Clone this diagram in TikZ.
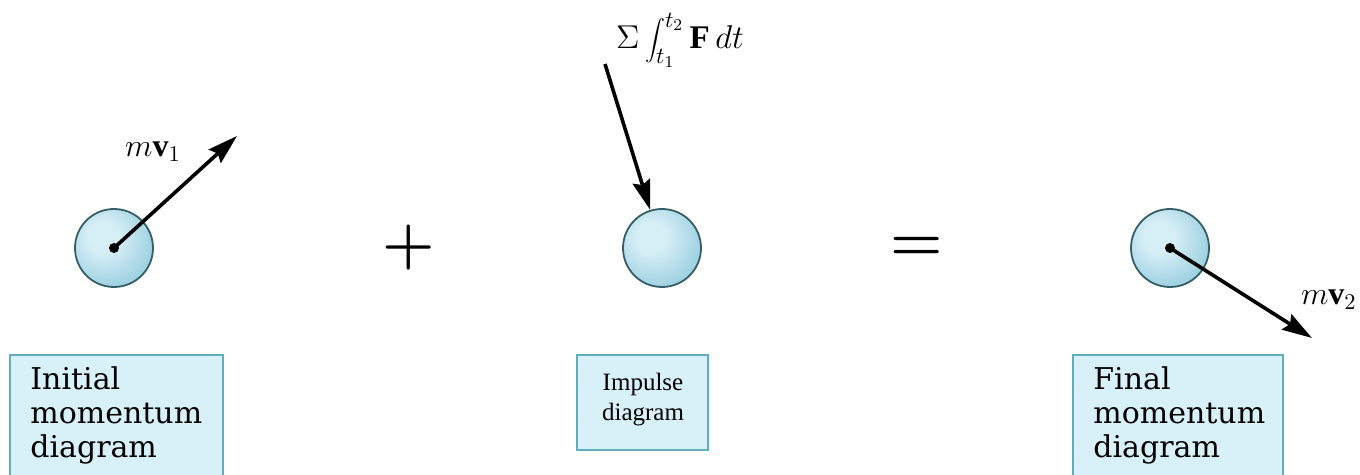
\RequirePackage{fix-cm}
\documentclass[tikz,border=0pt]{standalone}
\usepackage{fontspec}
\setmainfont{Liberation Serif}
\newfontfamily\wideserif{DejaVu Serif}
\usetikzlibrary{arrows.meta}
\definecolor{ballin}{HTML}{D6EEF6}
\definecolor{ballout}{HTML}{5AAFC8}
\definecolor{ballrim}{HTML}{355F68}
\definecolor{boxfill}{HTML}{D8F0F8}
\definecolor{boxrim}{HTML}{62AEBE}
\pgfdeclareradialshading{ballshade}{\pgfpoint{-8bp}{8bp}}{color(0bp)=(ballin); color(10bp)=(ballin); color(55bp)=(ballout); color(80bp)=(ballout)}
\tikzset{
  ballnode/.style={circle, minimum size=39pt, inner sep=0pt, draw=ballrim, line width=0.9pt, shading=ballshade},
  vec/.style={line width=1.8pt, -{Stealth[length=15pt,width=9pt,inset=2pt]}},
  dotnode/.style={circle, fill=black, minimum size=5pt, inner sep=0pt},
  labelbox/.style={draw=boxrim, fill=boxfill, line width=0.9pt},
  widetext/.style={anchor=north west, inner sep=0pt, align=left, font=\wideserif\fontsize{15}{17}\selectfont},
  mathlbl/.style={inner sep=0pt, font=\fontsize{16}{18}\selectfont},
  opnode/.style={inner sep=0pt, font=\fontsize{30}{32}\selectfont\boldmath}
}
\begin{document}
\begin{tikzpicture}[x=0.5pt,y=-0.5pt]
\useasboundingbox (0,0) rectangle (1360,475);
% label boxes
\draw[labelbox] (10,355) rectangle (223,490);
\draw[labelbox] (577,355) rectangle (708,450);
\draw[labelbox] (1073,355) rectangle (1283,490);
\node[widetext] (t1) at (30,366) {Initial\\momentum\\diagram};
\node[inner sep=0pt, align=center, font=\fontsize{12.5}{15}\selectfont] (t2) at (643,400) {Impulse\\diagram};
\node[widetext] (t3) at (1093,366) {Final\\momentum\\diagram};
% balls
\node[ballnode] (b1) at (114,248) {};
\node[ballnode] (b2) at (662,248) {};
\node[ballnode] (b3) at (1170,248) {};
% vectors
\coordinate (e1) at (237,136);
\draw[vec] (b1.center) -- (e1);
\node[dotnode] (d1) at (b1.center) {};
\node[mathlbl] (m1) at (153,152) {$m\mathbf{v}_1$};
\coordinate (s2) at (605,64);
\draw[vec] (s2) -- (b2);
\node[inner sep=0pt, font=\fontsize{16.5}{18}\selectfont] (imp) at (680,40) {$\displaystyle \Sigma\int_{t_1}^{t_2}\mathbf{F}\,dt$};
\coordinate (e3) at (1312,338);
\draw[vec] (b3.center) -- (e3);
\node[dotnode] (d3) at (b3.center) {};
\node[mathlbl, anchor=east] (m3) at (1357,300) {$m\mathbf{v}_2$};
% operators
\node[opnode] (plus) at (409,248) {$+$};
\node[opnode] (eq) at (917,249) {$=$};
\end{tikzpicture}
\end{document}
